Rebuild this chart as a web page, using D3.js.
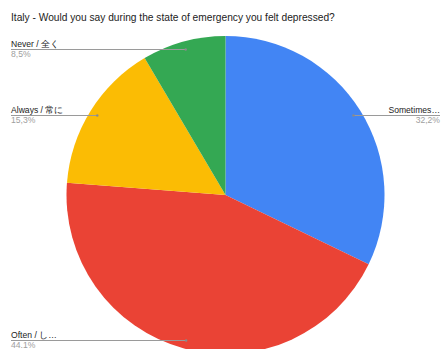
<!DOCTYPE html>
<html>
<head>
<meta charset="utf-8">
<script src="https://cdn.jsdelivr.net/npm/d3@7"></script>
<style>
  html, body { margin: 0; padding: 0; background: #fff; }
  svg { display: block; font-family: "Liberation Sans", Arial, sans-serif; }
</style>
</head>
<body>
<svg id="chart" width="442" height="349"></svg>
<script>
const title = "Italy - Would you say during the state of emergency you felt depressed?";
const categories = ["Sometimes…", "Often / し…", "Always / 常に", "Never / 全く"];
const values = [32.2, 44.1, 15.3, 8.5];
const pctLabels = ["32,2%", "44.1%", "15,3%", "8,5%"];
const colors = ["#4285F4", "#EA4335", "#FBBC04", "#34A853"];

const svg = d3.select("#chart");
const W = 442, H = 349;
const cx = 225.5, cy = 195, R = 159;

svg.append("text")
  .attr("x", 11).attr("y", 21)
  .attr("font-size", 10.2)
  .attr("fill", "#222")
  .text(title);

const pie = d3.pie().sort(null).value(d => d)(values);
const arc = d3.arc().innerRadius(0).outerRadius(R);
const labelArc = d3.arc().innerRadius(R * 0.95).outerRadius(R * 0.95);

const g = svg.append("g").attr("transform", `translate(${cx},${cy})`);
g.selectAll("path.slice").data(pie).enter().append("path")
  .attr("class", "slice")
  .attr("d", arc)
  .attr("fill", (d, i) => colors[i]);

const labels = svg.append("g");
pie.forEach((d, i) => {
  const [px, py] = labelArc.centroid(d);
  const x = cx + px, y = Math.min(Math.round(cy + py), 340) + 0.5;
  const right = x > cx;
  const x2 = right ? 440 : 11;
  labels.append("line")
    .attr("x1", x).attr("y1", y).attr("x2", x2).attr("y2", y)
    .attr("stroke", "#9a9a9a").attr("stroke-width", 1);
  labels.append("circle")
    .attr("cx", x).attr("cy", y).attr("r", 1.2)
    .attr("fill", "#8a8a8a");
  labels.append("text")
    .attr("x", x2).attr("y", y - 2.5)
    .attr("text-anchor", right ? "end" : "start")
    .attr("font-size", 8.6)
    .attr("fill", "#222")
    .text(categories[i]);
  labels.append("text")
    .attr("x", x2).attr("y", y + 7.3)
    .attr("text-anchor", right ? "end" : "start")
    .attr("font-size", 8.6)
    .attr("fill", "#9e9e9e")
    .text(pctLabels[i]);
});
</script>
</body>
</html>
